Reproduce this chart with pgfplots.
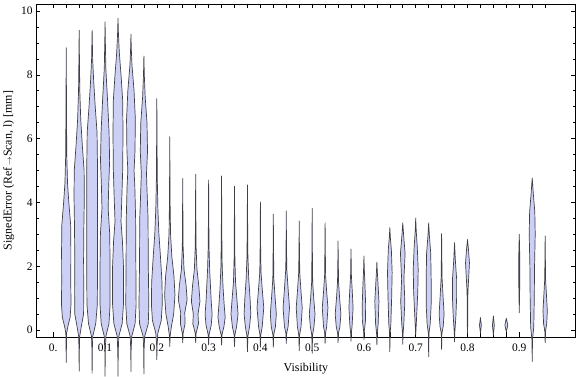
\documentclass[border=0pt]{standalone}
\usepackage{pgfplots}
\pgfplotsset{compat=1.18}
\usepackage{fontspec}
\setmainfont{Liberation Serif}
\definecolor{viofill}{RGB}{204,208,245}
\definecolor{vioedge}{RGB}{64,64,72}
\pgfplotsset{vio/.style={fill=viofill, draw=vioedge, line width=0.7bp, line join=round, mark=none}}
% violin: #1 = centre (visibility), #2 = list of value/half-width pairs, bottom tip to top tip
\newcommand\violin[2]{%
  \gdef\vR{}\gdef\vL{}%
  \foreach \yy/\ww in {#2}{%
    \pgfmathsetmacro\xr{#1+\ww}%
    \pgfmathsetmacro\xl{#1-\ww}%
    \xdef\vR{\vR(\xr,\yy)}%
    \xdef\vL{(\xl,\yy)\vL}%
  }%
  \edef\temp{\noexpand\addplot[vio] coordinates {\vR\vL} -- cycle;}%
  \temp
}
\begin{document}
\begin{tikzpicture}
\begin{axis}[
  name=ax,
  scale only axis, width=539.7bp, height=333bp,
  xmin=-0.0334, xmax=1.009, ymin=-0.219, ymax=10.22,
  clip=false,
  axis line style={line width=0.6bp},
  tick style={black, line width=0.6bp},
  tick align=inside,
  major tick length=4.5bp, minor tick length=2.6bp,
  xtick={0,0.025,...,0.96},
  xticklabels={0.,,,,0.1,,,,0.2,,,,0.3,,,,0.4,,,,0.5,,,,0.6,,,,0.7,,,,0.8,,,,0.9,,,},
  ytick={0,2,...,10},
  minor y tick num=3,
  /pgf/number format/assume math mode=true,
  tick label style={font=\fontsize{11.5}{13}\selectfont, black},
  xticklabel style={yshift=-3.5bp},
  label style={font=\fontsize{12}{14}\selectfont},
  xlabel style={yshift=-5bp},
  xlabel={Visibility},
  ylabel={SignedError (Ref\,{\footnotesize$\rightarrow$}Scan, l) [mm]},
]
\violin{0.025}{-1.02/0,-0.5/0.0004,-0.1/0.0008,0.1/0.003,0.4/0.0075,0.8/0.0092,1.5/0.0088,2.5/0.009,3.3/0.0085,4.0/0.005,4.6/0.0025,5.5/0.001,7/0.0005,8.85/0}
\violin{0.05}{-1.29/0,-0.6/0.0004,-0.2/0.001,0.1/0.004,0.5/0.0085,1.2/0.0088,2.2/0.0085,3.2/0.009,4.2/0.01,5.0/0.0095,5.8/0.006,6.6/0.003,7.5/0.0012,8.5/0.0005,9.40/0}
\violin{0.075}{-1.36/0,-0.6/0.0004,-0.2/0.0012,0.2/0.007,0.8/0.01,2/0.0105,3.5/0.0105,5/0.0105,6.2/0.0095,7.0/0.006,7.8/0.003,8.5/0.001,9.40/0}
\violin{0.1}{-1.45/0,-0.7/0.0004,-0.2/0.0015,0.2/0.0075,0.8/0.0097,2.0/0.0097,3.0/0.009,3.8/0.006,4.5/0.007,5.3/0.0088,6.2/0.0077,7.2/0.0048,8.2/0.0015,9.0/0.0006,9.66/0}
\violin{0.125}{-1.45/0,-0.7/0.0004,-0.2/0.0015,0.2/0.008,0.8/0.0105,2.0/0.0105,2.8/0.0085,3.4/0.0058,4.2/0.0075,5.0/0.009,6.2/0.0097,7.2/0.009,8.0/0.0058,8.7/0.0025,9.3/0.0008,9.77/0}
\violin{0.15}{-1.30/0,-0.6/0.0004,-0.2/0.0015,0.2/0.008,0.8/0.01,2.0/0.0095,3.5/0.009,4.5/0.0075,5.0/0.006,5.6/0.0078,6.6/0.0085,7.5/0.006,8.3/0.002,8.8/0.0007,9.27/0}
\violin{0.175}{-1.38/0,-0.6/0.0004,-0.2/0.0015,0.2/0.0085,0.8/0.0095,2.0/0.0085,3.5/0.008,4.4/0.006,4.9/0.005,5.6/0.007,6.5/0.006,7.3/0.0025,8.0/0.0008,8.59/0}
\violin{0.2}{-0.93/0,-0.5/0.0004,-0.1/0.002,0.3/0.0085,0.8/0.0105,1.5/0.01,2.3/0.007,3.0/0.004,3.8/0.002,4.8/0.0008,6/0.0004,7.25/0}
\violin{0.225}{-0.52/0,-0.2/0.0006,0.1/0.003,0.5/0.0075,1.1/0.01,1.7/0.008,2.3/0.004,3.0/0.0015,4.0/0.0006,6.06/0}
\violin{0.25}{-0.40/0,-0.1/0.0008,0.2/0.0045,0.55/0.004,0.95/0.0085,1.4/0.0065,1.9/0.0025,2.6/0.0008,3.5/0.0004,4.75/0}
\violin{0.275}{-0.40/0,-0.1/0.0008,0.2/0.0055,0.5/0.0045,0.9/0.0083,1.4/0.006,1.9/0.0025,2.6/0.0008,3.5/0.0004,4.88/0}
\violin{0.3}{-0.47/0,-0.15/0.0008,0.15/0.005,0.5/0.0068,0.9/0.005,1.3/0.0038,1.9/0.002,2.6/0.0008,3.5/0.0004,4.70/0}
\violin{0.325}{-0.47/0,-0.15/0.0008,0.1/0.0045,0.4/0.007,0.8/0.005,1.3/0.003,2.0/0.0012,3.0/0.0005,4.83/0}
\violin{0.35}{-0.52/0,-0.15/0.0008,0.1/0.004,0.5/0.0068,1.0/0.0045,1.5/0.002,2.2/0.0008,3.2/0.0004,4.51/0}
\violin{0.375}{-0.68/0,-0.2/0.0008,0.1/0.004,0.5/0.0065,1.0/0.005,1.6/0.0025,2.3/0.0009,3.3/0.0004,4.55/0}
\violin{0.4}{-0.54/0,-0.15/0.0008,0.1/0.0035,0.7/0.0065,1.2/0.004,1.8/0.0012,2.6/0.0005,4.02/0}
\violin{0.425}{-0.54/0,-0.15/0.0008,0.1/0.004,0.5/0.0058,1.0/0.0035,1.6/0.001,2.5/0.0004,3.63/0}
\violin{0.45}{-0.42/0,-0.1/0.0008,0.1/0.0035,0.7/0.0062,1.3/0.0035,1.9/0.001,2.7/0.0004,3.73/0}
\violin{0.475}{-0.65/0,-0.15/0.0008,0.1/0.0035,0.7/0.0058,1.2/0.0035,1.8/0.001,2.6/0.0004,3.42/0}
\violin{0.5}{-0.73/0,-0.15/0.0008,0.1/0.0035,0.5/0.0055,1.0/0.003,1.5/0.001,2.5/0.0004,3.81/0}
\violin{0.525}{-0.42/0,-0.1/0.0008,0.1/0.003,0.7/0.0055,1.2/0.003,1.7/0.001,2.5/0.0004,3.36/0}
\violin{0.55}{-0.40/0,-0.1/0.0008,0.1/0.0035,0.5/0.0055,1.0/0.003,1.5/0.001,2.2/0.0004,2.79/0}
\violin{0.575}{-0.35/0,-0.1/0.0006,0.1/0.002,0.7/0.004,1.2/0.0025,1.7/0.0008,2.54/0}
\violin{0.6}{-0.30/0,-0.05/0.0006,0.3/0.003,0.8/0.0033,1.4/0.002,1.9/0.0007,2.32/0}
\violin{0.625}{-0.47/0,-0.1/0.0006,0.2/0.0025,0.9/0.004,1.5/0.002,1.9/0.0006,2.13/0}
\violin{0.65}{-0.68/0,-0.1/0.0006,0.2/0.002,1.0/0.0035,1.8/0.0045,2.5/0.003,2.9/0.001,3.21/0}
\violin{0.675}{-0.45/0,-0.1/0.0006,0.2/0.002,0.9/0.004,1.6/0.0022,2.4/0.0045,3.0/0.0015,3.36/0}
\violin{0.7}{-0.15/0,0.1/0.0008,0.5/0.002,1.2/0.004,1.9/0.0048,2.6/0.003,3.1/0.001,3.51/0}
\violin{0.725}{-0.84/0,-0.1/0.0006,0.2/0.003,0.8/0.0048,1.6/0.0048,2.4/0.004,3.0/0.0012,3.36/0}
\violin{0.75}{-0.61/0,-0.1/0.0006,0.1/0.003,0.5/0.0048,1.0/0.003,1.6/0.001,2.3/0.0004,3.03/0}
\violin{0.775}{-0.37/0,-0.05/0.0006,0.4/0.0025,1.0/0.004,1.6/0.004,2.2/0.0015,2.74/0}
\violin{0.8}{-0.10/0,0.3/0.0006,1.2/0.0008,1.7/0.0025,2.1/0.0038,2.5/0.002,2.84/0}
\violin{0.825}{-0.10/0,0.15/0.0018,0.39/0}
\violin{0.85}{-0.16/0,0.15/0.0018,0.44/0}
\violin{0.875}{-0.05/0,0.15/0.0028,0.37/0}
\violin{0.9}{0.54/0,1.5/0.001,2.3/0.001,3.0/0}
\violin{0.925}{-0.99/0,-0.3/0.0006,0.1/0.003,1.0/0.004,2.0/0.0045,3.0/0.0058,3.7/0.005,4.3/0.002,4.77/0}
\violin{0.95}{-0.40/0,-0.05/0.0006,0.2/0.003,0.6/0.0042,1.1/0.0025,1.6/0.0008,2.3/0.0004,2.95/0}
\end{axis}
\pgfresetboundingbox
\path ([shift={(-36bp,-40bp)}]ax.south west) rectangle ([shift={(0.3bp,4bp)}]ax.north east);
\end{tikzpicture}
\end{document}
